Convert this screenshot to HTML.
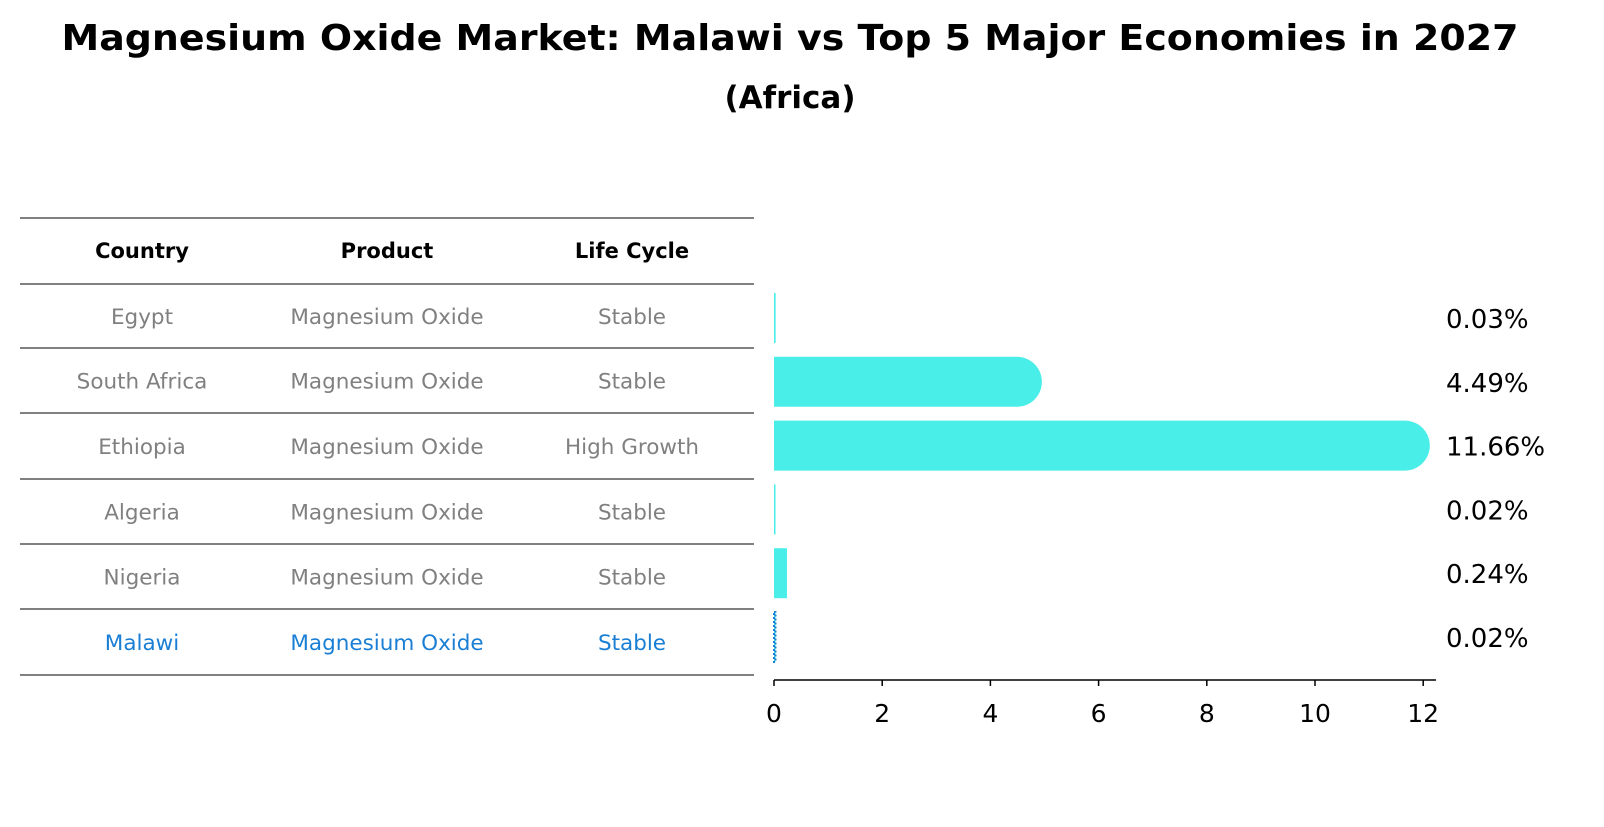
<!DOCTYPE html>
<html><head><meta charset="utf-8"><style>
body{margin:0;background:#fff;font-family:"DejaVu Sans","Liberation Sans",sans-serif;}
</style></head><body>
<svg width="1604" height="823" viewBox="0 0 1604 823">
<text x="790" y="50" text-anchor="middle" font-size="36" font-weight="bold" textLength="1457" lengthAdjust="spacingAndGlyphs">Magnesium Oxide Market: Malawi vs Top 5 Major Economies in 2027</text>
<text x="790" y="108" text-anchor="middle" font-size="31" font-weight="bold">(Africa)</text>
<g id="table"></g>
<g id="bars"></g>
</svg>
<script>
const countries=["Egypt","South Africa","Ethiopia","Algeria","Nigeria","Malawi"];
const lifeCycles=["Stable","Stable","High Growth","Stable","Stable","Stable"];
const values=[0.03,4.49,11.66,0.02,0.24,0.02];
const valueLabels=["0.03%","4.49%","11.66%","0.02%","0.24%","0.02%"];
const xTicks=[0,2,4,6,8,10,12];
const NS="http://www.w3.org/2000/svg";
function mk(t,a,p,txt){const e=document.createElementNS(NS,t);for(const k in a)e.setAttribute(k,a[k]);if(txt!==undefined)e.textContent=txt;p.appendChild(e);return e;}
const tbl=document.getElementById('table'),bars=document.getElementById('bars');
const lineYs=[218,284,348,413,479,544,609,675];
lineYs.forEach((y,i)=>{const l=mk('line',{x1:20,x2:754,y1:y,y2:y,stroke:'#000','stroke-width':1},tbl);

});
const colX=[142,387,632];
["Country","Product","Life Cycle"].forEach((h,i)=>{const t=mk('text',{x:colX[i],y:258,'text-anchor':'middle','font-size':21,'font-weight':'bold'},tbl,h);

});
const rowY=i=>(lineYs[i+1]+lineYs[i+2])/2+8;
countries.forEach((c,i)=>{const col=c==="Malawi"?'#1a7fd4':'#808080';
[c,"Magnesium Oxide",lifeCycles[i]].forEach((v,j)=>{const t=mk('text',{x:colX[j],y:rowY(i),'text-anchor':'middle','font-size':21.5,fill:col},tbl,v);

});});
const x0=774,xs=54.1;const X=v=>x0+v*xs;
const barY=i=>318+i*63.8;const bh=50;
values.forEach((v,i)=>{const w=Math.max(X(v)-x0,1.5);const y=barY(i)-bh/2;let e;
if(countries[i]==="Malawi"){e=mk('rect',{x:x0,y:y,width:w,height:bh,fill:'#4aeee9',stroke:'#1a7fd4','stroke-width':2,'stroke-dasharray':'2 2'},bars);}
else if(v>1){const r=bh/2;e=mk('path',{d:`M${x0},${y}H${x0+w}A${r},${r} 0 0 1 ${x0+w},${y+bh}H${x0}Z`,fill:'#4aeee9'},bars);}
else{e=mk('rect',{x:x0,y:y,width:w,height:bh,fill:'#4aeee9'},bars);}


const t=mk('text',{x:1446,y:barY(i)+10,'font-size':26},bars,valueLabels[i]);

});
const ax=mk('line',{x1:x0,x2:1436,y1:680,y2:680,stroke:'#000','stroke-width':1.5},bars);


xTicks.forEach(t=>{const l=mk('line',{x1:X(t),x2:X(t),y1:680,y2:686,stroke:'#000','stroke-width':1.5},bars);


const tx=mk('text',{x:X(t),y:722,'text-anchor':'middle','font-size':25},bars,String(t));

});
</script>
</body></html>
